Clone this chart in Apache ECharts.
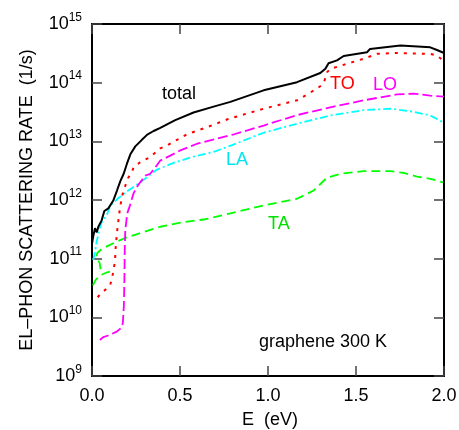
<!DOCTYPE html>
<html>
<head>
<meta charset="utf-8">
<script src="https://cdn.jsdelivr.net/npm/echarts@6/dist/echarts.min.js"></script>
<style>
  html, body { margin: 0; padding: 0; background: #fff; }
  #chart { width: 459px; height: 430px; }
</style>
</head>
<body>
<div id="chart"></div>
<script>
// Electron-phonon scattering rates in graphene at 300 K (rates in 1/s, energy in eV)
const totalE = [0.0, 0.007, 0.017, 0.027, 0.036, 0.055, 0.07, 0.093, 0.121, 0.142, 0.161, 0.18, 0.199, 0.218, 0.246, 0.282, 0.314, 0.35, 0.388, 0.473, 0.577, 0.691, 0.786, 0.975, 1.165, 1.297, 1.326, 1.344, 1.392, 1.43, 1.5625, 1.58, 1.752, 1.922, 1.96, 2.0];
const totalRate = [1.8e11, 2.4e11, 3.3e11, 2.8e11, 3.5e11, 4.5e11, 6.5e11, 7.2e11, 9.8e11, 1.45e12, 2.1e12, 2.8e12, 4.2e12, 6.0e12, 8.2e12, 1.05e13, 1.3e13, 1.5e13, 1.7e13, 2.3e13, 3.1e13, 3.9e13, 4.7e13, 7.4e13, 1.02e14, 1.46e14, 1.73e14, 2.14e14, 2.4e14, 2.85e14, 3.3e14, 3.76e14, 4.3e14, 4.0e14, 3.6e14, 3.2e14];

const toE = [0.032, 0.053, 0.084, 0.104, 0.121, 0.131, 0.134, 0.142, 0.149, 0.159, 0.172, 0.1875, 0.206, 0.227, 0.236, 0.274, 0.331, 0.388, 0.426, 0.54, 0.653, 0.774, 0.975, 1.165, 1.278, 1.316, 1.335, 1.354, 1.449, 1.543, 1.619, 1.733, 1.922, 1.96, 1.995];
const toRate = [2.2e10, 2.6e10, 3.1e10, 3.6e10, 5.9e10, 9.4e10, 1.5e11, 2.8e11, 4.2e11, 7.4e11, 1.2e12, 1.7e12, 2.4e12, 3.0e12, 3.6e12, 4.4e12, 5.4e12, 7.6e12, 8.5e12, 1.32e13, 1.74e13, 2.4e13, 3.6e13, 5.0e13, 7.9e13, 9.6e13, 1.5e14, 1.72e14, 2.1e14, 2.55e14, 3.1e14, 3.2e14, 3.1e14, 2.9e14, 2.4e14];

const loE = [0.045, 0.064, 0.093, 0.14, 0.164, 0.175, 0.181, 0.184, 0.186, 0.189, 0.2, 0.216, 0.236, 0.257, 0.274, 0.303, 0.331, 0.36, 0.388, 0.445, 0.502, 0.597, 0.71, 0.808, 0.975, 1.165, 1.354, 1.543, 1.733, 1.827, 1.922, 2.0];
const loRate = [4.1e9, 4.6e9, 4.9e9, 5.7e9, 6.5e9, 7.9e9, 1.55e10, 4.3e10, 1.4e11, 3.0e11, 5.9e11, 8.1e11, 1.3e12, 1.7e12, 2.0e12, 2.6e12, 2.8e12, 3.6e12, 4.7e12, 5.7e12, 7.0e12, 9.1e12, 1.11e13, 1.32e13, 1.86e13, 2.8e13, 3.8e13, 5.0e13, 6.3e13, 6.5e13, 6.0e13, 5.8e13];

const laE = [0.007, 0.019, 0.027, 0.039, 0.047, 0.055, 0.083, 0.104, 0.149, 0.184, 0.223, 0.263, 0.309, 0.369, 0.464, 0.577, 0.691, 0.795, 0.975, 1.165, 1.354, 1.543, 1.695, 1.827, 1.922, 1.96, 1.995];
const laRate = [0.95e11, 1.4e11, 2.0e11, 2.8e11, 3.6e11, 4.2e11, 5.4e11, 8.1e11, 1.07e12, 1.3e12, 1.57e12, 1.9e12, 2.4e12, 3.3e12, 4.3e12, 5.5e12, 6.6e12, 8.6e12, 1.4e13, 2.0e13, 2.76e13, 3.4e13, 3.6e13, 3.2e13, 2.76e13, 2.4e13, 2.1e13];

// TA: low-energy branch and main branch
const taLowE = [0.005, 0.02, 0.047, 0.083, 0.12];
const taLowRate = [3.5e10, 4.3e10, 5.2e10, 5.8e10, 6.3e10];
const taE = [0.049, 0.043, 0.024, 0.03, 0.055, 0.093, 0.149, 0.197, 0.253, 0.388, 0.52, 0.644, 0.786, 0.975, 1.165, 1.259, 1.335, 1.411, 1.543, 1.695, 1.77, 1.847, 1.922, 1.995];
const taRate = [6.6e10, 8.5e10, 1.05e11, 1.25e11, 1.46e11, 1.67e11, 2.0e11, 2.3e11, 2.6e11, 3.5e11, 4.2e11, 4.7e11, 5.9e11, 8.1e11, 1.05e12, 1.45e12, 2.4e12, 2.8e12, 3.1e12, 3.1e12, 2.9e12, 2.5e12, 2.3e12, 2.0e12];

const xTicks = [0, 0.5, 1.0, 1.5, 2.0];
const yDecades = [9, 15];

const FONT = '"Liberation Sans", Arial, sans-serif';
const zip = (xs, ys) => xs.map((x, i) => [x, ys[i]]);

const chart = echarts.init(document.getElementById('chart'), null, { renderer: 'canvas' });

// fresh style objects for every axis
const tickStyle = () => ({ show: true, inside: true, length: 10, lineStyle: { color: '#444', width: 1.5 } });
const lineAxis = () => ({ show: true, onZero: false, lineStyle: { color: '#000', width: 2 } });
// frame axes keep their labels laid out but unpainted
const blankLabel = () => ({ show: true, color: 'rgba(0,0,0,0)', fontSize: 10 });

function curve(name, data, color, type, width) {
  return {
    name, type: 'line', data, showSymbol: false, symbol: 'none',
    lineStyle: { color, width, type }
  };
}

chart.setOption({
  animation: false,
  grid: { left: 92, right: 15, top: 24, bottom: 54, outerBoundsMode: 'none' },
  xAxis: [
    {
      type: 'value', min: xTicks[0], max: xTicks[xTicks.length - 1], interval: 0.5,
      position: 'bottom',
      axisLine: lineAxis(), axisTick: tickStyle(), splitLine: { show: false },
      axisLabel: { color: '#000', fontSize: 18, fontFamily: FONT, margin: 11,
        formatter: v => v.toFixed(1) }
    },
    {
      type: 'value', min: xTicks[0], max: xTicks[xTicks.length - 1], interval: 0.5,
      position: 'top',
      axisLine: lineAxis(), axisTick: tickStyle(), splitLine: { show: false },
      axisLabel: blankLabel()
    }
  ],
  yAxis: [
    {
      type: 'log', min: Math.pow(10, yDecades[0]), max: Math.pow(10, yDecades[1]), splitNumber: 6,
      position: 'left',
      axisLine: lineAxis(), axisTick: tickStyle(), splitLine: { show: false },
      minorTick: { show: false },
      axisLabel: {
        margin: 10,
        formatter: v => '{b|10}{s|' + Math.round(Math.log10(v)) + '}',
        rich: {
          b: { fontSize: 18, fontFamily: FONT, color: '#000' },
          s: { fontSize: 12, fontFamily: FONT, color: '#000', padding: [0, 0, 13, 0] }
        }
      },
      name: 'EL\u2013PHON SCATTERING RATE  (1/s)', nameLocation: 'middle', nameGap: 56,
      nameRotate: 90,
      nameTextStyle: { color: '#000', fontSize: 18, fontFamily: FONT }
    },
    {
      // mirror of the decade scale (exponent space) for the right-hand frame ticks
      type: 'value', min: yDecades[0], max: yDecades[1], interval: 1,
      position: 'right',
      axisLine: lineAxis(), axisTick: tickStyle(), splitLine: { show: false },
      axisLabel: blankLabel()
    }
  ],
  series: [
    curve('TA', zip(taLowE, taLowRate), '#00ff00', [9, 5], 1.8),
    curve('TA', zip(taE, taRate), '#00ff00', [9, 5], 1.8),
    curve('LA', zip(laE, laRate), '#00ffff', [8, 3, 2, 3], 1.8),
    curve('LO', zip(loE, loRate), '#ff00ff', [10, 4], 1.8),
    curve('TO', zip(toE, toRate), '#ff0000', [3, 6], 2),
    curve('total', zip(totalE, totalRate), '#000000', 'solid', 2)
  ],
  graphic: [
    { type: 'text', x: 162, y: 94, style: { text: 'total', fill: '#000', font: '18px ' + FONT, textVerticalAlign: 'middle' } },
    { type: 'text', x: 330, y: 84, style: { text: 'TO', fill: '#ff0000', font: '18px ' + FONT, textVerticalAlign: 'middle' } },
    { type: 'text', x: 373, y: 85.5, style: { text: 'LO', fill: '#ff00ff', font: '18px ' + FONT, textVerticalAlign: 'middle' } },
    { type: 'text', x: 226, y: 160.5, style: { text: 'LA', fill: '#00e5f0', font: '18px ' + FONT, textVerticalAlign: 'middle' } },
    { type: 'text', x: 268, y: 224.5, style: { text: 'TA', fill: '#00e000', font: '18px ' + FONT, textVerticalAlign: 'middle' } },
    { type: 'text', x: 259, y: 342, style: { text: 'graphene 300 K', fill: '#000', font: '18px ' + FONT, textVerticalAlign: 'middle' } },
    { type: 'text', x: 270, y: 420, style: { text: 'E  (eV)', fill: '#000', font: '18px ' + FONT, textAlign: 'center', textVerticalAlign: 'middle' } }
  ]
});
</script>
</body>
</html>
